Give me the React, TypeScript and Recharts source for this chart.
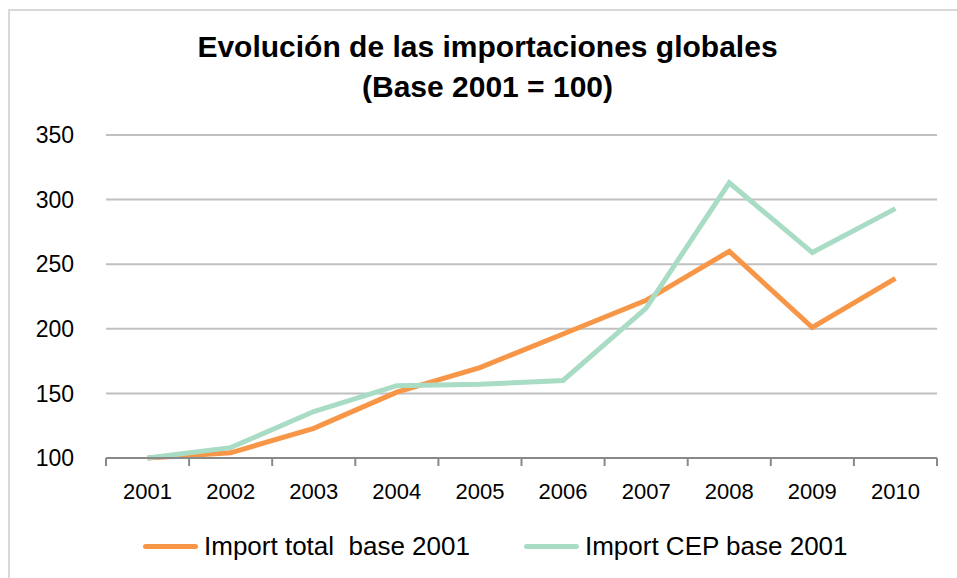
import { CartesianGrid, Line, LineChart, XAxis, YAxis } from "recharts";

const years = ["2001", "2002", "2003", "2004", "2005", "2006", "2007", "2008", "2009", "2010"];
const importTotal = [100, 104, 123, 151, 170, 196, 222, 260, 201, 239];
const importCep = [100, 108, 136, 156, 157, 160, 216, 313, 259, 293];
const yTicks = [100, 150, 200, 250, 300, 350];

const series = [
  { key: "total", name: "Import total  base 2001", color: "#f79646" },
  { key: "cep", name: "Import CEP base 2001", color: "#a9dcc5" },
];

const data = years.map((year, i) => ({
  year,
  total: importTotal[i],
  cep: importCep[i],
}));

const W = 957;
const H = 578;
const PLOT_LEFT = 106;
const PLOT_RIGHT = 20;
const STEP = (W - PLOT_LEFT - PLOT_RIGHT) / years.length;
const FONT = "'Liberation Sans', Arial, sans-serif";

// category ticks: label centred, tick mark on the band edges
function YearTick(props: any) {
  const { x, y, payload, index } = props;
  return (
    <g>
      <line x1={x - STEP / 2} x2={x - STEP / 2} y1={y} y2={y + 8} stroke="#898989" strokeWidth={2} />
      {index === years.length - 1 && (
        <line x1={x + STEP / 2} x2={x + STEP / 2} y1={y} y2={y + 8} stroke="#898989" strokeWidth={2} />
      )}
      <text x={x} y={y + 35} textAnchor="middle" dominantBaseline="middle" fontSize={22} fill="#000" fontFamily={FONT}>
        {payload.value}
      </text>
    </g>
  );
}

export default function App() {
  return (
    <div style={{ position: "fixed", left: 0, top: 0, width: W, height: H, background: "#fff", fontFamily: FONT }}>
      <div
        style={{
          position: "absolute",
          left: 8,
          top: 9,
          width: W,
          height: H,
          borderLeft: "2px solid #d9d9d9",
          borderTop: "2px solid #d9d9d9",
        }}
      />
      <div
        style={{
          position: "absolute",
          left: 0,
          width: 975,
          top: 27,
          textAlign: "center",
          fontWeight: "bold",
          fontSize: 30,
          lineHeight: "40px",
          color: "#000",
        }}
      >
        Evolución de las importaciones globales
        <br />
        (Base 2001 = 100)
      </div>
      <div style={{ position: "absolute", left: 0, top: 0 }}>
        <LineChart width={W} height={H} data={data} margin={{ top: 135, right: PLOT_RIGHT, bottom: 0, left: 0 }}>
          <CartesianGrid vertical={false} stroke="#c0c0c0" strokeWidth={2} />
          <XAxis
            dataKey="year"
            height={120}
            padding={{ left: STEP / 2, right: STEP / 2 }}
            axisLine={{ stroke: "#898989", strokeWidth: 2 }}
            tickLine={false}
            tickSize={0}
            tickMargin={0}
            interval={0}
            tick={<YearTick />}
          />
          <YAxis
            width={PLOT_LEFT}
            domain={[100, 350]}
            ticks={yTicks}
            axisLine={false}
            tickLine={false}
            tickSize={0}
            tickMargin={32}
            tick={{ fontSize: 23, fill: "#000", fontFamily: FONT }}
          />
          {series.map((s) => (
            <Line
              key={s.key}
              type="linear"
              dataKey={s.key}
              name={s.name}
              stroke={s.color}
              strokeWidth={5}
              dot={false}
              isAnimationActive={false}
            />
          ))}
        </LineChart>
      </div>
      <div
        style={{
          position: "absolute",
          left: 143,
          top: 530,
          height: 32,
          display: "flex",
          alignItems: "center",
          gap: 54,
          fontSize: 26,
          color: "#000",
          whiteSpace: "pre",
        }}
      >
        {series.map((s) => (
          <div key={s.key} style={{ display: "flex", alignItems: "center" }}>
            <span style={{ display: "inline-block", width: 55, height: 5, borderRadius: 3, background: s.color, marginRight: 6 }} />
            <span>{s.name}</span>
          </div>
        ))}
      </div>
    </div>
  );
}
